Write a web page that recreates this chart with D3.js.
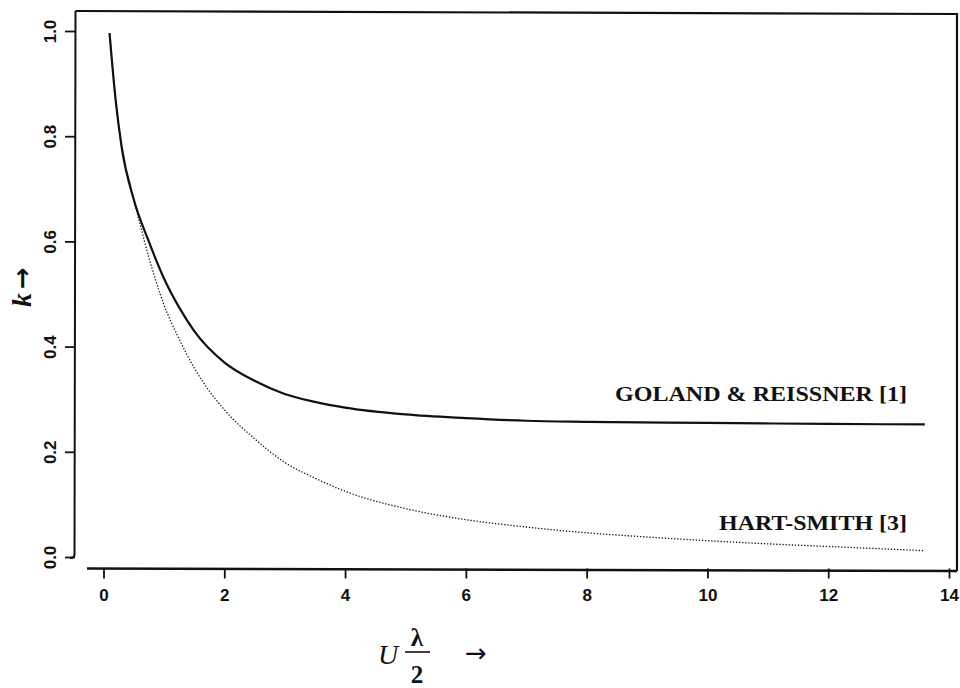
<!DOCTYPE html>
<html>
<head>
<meta charset="utf-8">
<script src="https://cdn.jsdelivr.net/npm/d3@7"></script>
<style>
  html, body { margin: 0; padding: 0; background: #fff; }
  svg { display: block; }
</style>
</head>
<body>
<svg id="chart" width="960" height="688"></svg>
<script>
// ---- data ----
const golandU = [0.1, 0.2, 0.3, 0.5, 0.75, 1.0, 1.25, 1.5, 2.0, 2.5, 3.0, 3.5, 4.0, 5.0, 6.0, 7.0, 8.0, 10.0, 12.0, 13.6];
const golandK = [0.996, 0.87, 0.78, 0.68, 0.60, 0.53, 0.475, 0.43, 0.37, 0.335, 0.31, 0.295, 0.284, 0.271, 0.264, 0.259, 0.257, 0.255, 0.253, 0.252];

const hartU = [0.1, 0.2, 0.3, 0.5, 0.6, 0.75, 1.0, 1.25, 1.5, 2.0, 2.5, 3.0, 3.5, 4.0, 5.0, 6.0, 7.0, 8.0, 9.0, 10.0, 11.0, 12.0, 13.0, 13.6];
const hartK = [0.996, 0.87, 0.78, 0.68, 0.635, 0.57, 0.48, 0.415, 0.36, 0.28, 0.225, 0.18, 0.15, 0.125, 0.092, 0.071, 0.057, 0.046, 0.038, 0.031, 0.025, 0.020, 0.015, 0.012];

const xTicks = [0, 2, 4, 6, 8, 10, 12, 14];
const yTicks = [0, 0.2, 0.4, 0.6, 0.8, 1.0];
const yTickLabels = ["0.0", "0.2", "0.4", "0.6", "0.8", "1.0"];
const seriesLabels = ["GOLAND & REISSNER [1]", "HART-SMITH [3]"];

// ---- drawing ----
const svg = d3.select("#chart");
const x = d3.scaleLinear().domain([0, 14]).range([103.5, 949]);
const y = d3.scaleLinear().domain([0, 1]).range([557, 31]);

const ink = "#111";
const tickFont = "'Liberation Sans Narrow', 'Liberation Sans', Arial, sans-serif";
const labelFont = "'Liberation Serif', 'Times New Roman', serif";
const arrowFont = "'DejaVu Sans', sans-serif";

// frame lines
svg.append("path")
  .attr("d", "M75.5,11 L76.5,11 L957,14 L957,571")
  .attr("fill", "none").attr("stroke", ink).attr("stroke-width", 2.2);
svg.append("path")
  .attr("d", "M75.5,11 L74.5,555 Q74,558 70,558")
  .attr("fill", "none").attr("stroke", ink).attr("stroke-width", 2);

// x axis
const xAxis = svg.append("g")
  .attr("transform", "translate(0,568.5)")
  .call(d3.axisBottom(x).tickValues(xTicks).tickSize(10).tickPadding(10).tickFormat(d3.format("d")));
xAxis.select(".domain").attr("d", "M87,0 L957,2.5").attr("stroke", ink).attr("stroke-width", 2.4);
xAxis.selectAll(".tick line").attr("stroke", ink).attr("stroke-width", 1.8);
xAxis.selectAll(".tick text")
  .attr("fill", ink)
  .style("font-family", tickFont)
  .style("font-weight", "bold").style("font-size", "17px");

// y axis
const yAxis = svg.append("g")
  .attr("transform", "translate(75,0)")
  .call(d3.axisLeft(y).tickValues(yTicks).tickSize(10).tickFormat((d, i) => yTickLabels[i]));
yAxis.select(".domain").remove();
yAxis.selectAll(".tick line").attr("stroke", ink).attr("stroke-width", 1.8);
yAxis.selectAll(".tick text")
  .attr("fill", ink)
  .attr("x", 0).attr("y", 0)
  .attr("dy", "0.35em")
  .attr("text-anchor", "middle")
  .attr("transform", "translate(-25,0) rotate(-90)")
  .style("font-family", tickFont)
  .style("font-weight", "bold").style("font-size", "17px");

// curves
const line = d3.line().x(d => x(d[0])).y(d => y(d[1])).curve(d3.curveMonotoneX);
const golandPts = golandU.map((u, i) => [u, golandK[i]]);
const hartPts = hartU.map((u, i) => [u, hartK[i]]);

svg.append("path").datum(hartPts)
  .attr("d", line).attr("fill", "none").attr("stroke", ink)
  .attr("stroke-width", 1.3).attr("stroke-dasharray", "1.3,1.8");
svg.append("path").datum(golandPts)
  .attr("d", line).attr("fill", "none").attr("stroke", ink)
  .attr("stroke-width", 2.2);

// series labels
svg.append("text")
  .attr("x", 907).attr("y", 401)
  .attr("text-anchor", "end")
  .attr("textLength", 292).attr("lengthAdjust", "spacingAndGlyphs")
  .style("font-family", labelFont).style("font-weight", "bold").style("font-size", "20px")
  .attr("fill", ink)
  .text(seriesLabels[0]);
svg.append("text")
  .attr("x", 907).attr("y", 530)
  .attr("text-anchor", "end")
  .attr("textLength", 188).attr("lengthAdjust", "spacingAndGlyphs")
  .style("font-family", labelFont).style("font-weight", "bold").style("font-size", "20px")
  .attr("fill", ink)
  .text(seriesLabels[1]);

// y axis title  k →
svg.append("text")
  .attr("transform", "translate(31,300) rotate(-90)")
  .attr("text-anchor", "middle")
  .style("font-family", labelFont).style("font-style", "italic").style("font-weight", "bold").style("font-size", "28px")
  .attr("fill", ink).text("k");
svg.append("text")
  .attr("transform", "translate(31,278) rotate(-90)")
  .attr("text-anchor", "middle")
  .style("font-family", arrowFont).style("font-weight", "bold").style("font-size", "26px")
  .attr("fill", ink).text("→");

// x axis title  U λ/2 →
svg.append("text")
  .attr("x", 388).attr("y", 664)
  .attr("text-anchor", "middle")
  .style("font-family", labelFont).style("font-style", "italic").style("font-size", "28px")
  .attr("fill", ink).text("U");
svg.append("text")
  .attr("x", 417).attr("y", 646)
  .attr("text-anchor", "middle")
  .style("font-family", labelFont).style("font-weight", "bold").style("font-size", "25px")
  .attr("fill", ink).text("λ");
svg.append("line")
  .attr("x1", 405).attr("x2", 430).attr("y1", 652).attr("y2", 652)
  .attr("stroke", ink).attr("stroke-width", 1.6);
svg.append("text")
  .attr("x", 417).attr("y", 683)
  .attr("text-anchor", "middle")
  .style("font-family", labelFont).style("font-weight", "bold").style("font-size", "25px")
  .attr("fill", ink).text("2");
svg.append("text")
  .attr("x", 476).attr("y", 662)
  .attr("text-anchor", "middle")
  .style("font-family", arrowFont).style("font-size", "26px")
  .attr("fill", ink).text("→");
</script>
</body>
</html>
